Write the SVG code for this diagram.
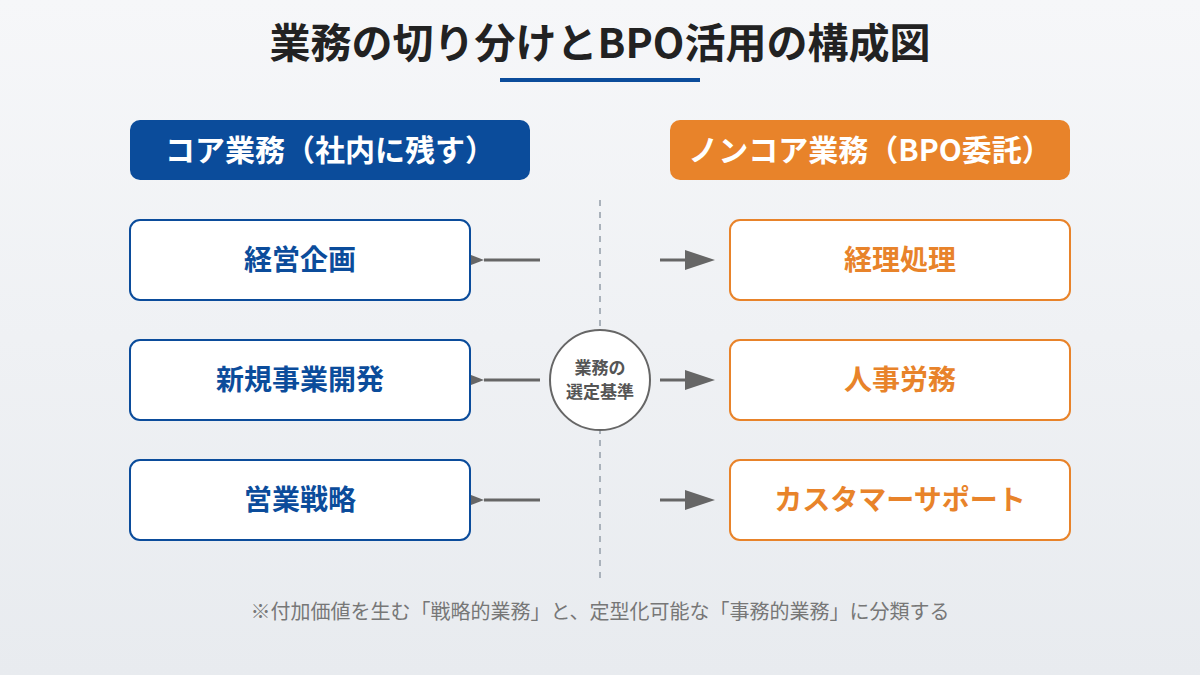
<svg xmlns="http://www.w3.org/2000/svg" width="1200" height="675" viewBox="0 0 1200 675">
<defs>
<linearGradient id="bg" x1="0" y1="0" x2="0" y2="1">
<stop offset="0" stop-color="#f6f7f9"/>
<stop offset="1" stop-color="#e8ebef"/>
</linearGradient>
<style>
text{font-family:"Noto Sans CJK JP","Noto Sans",sans-serif;text-anchor:middle;dominant-baseline:central}
.title{font-size:41px;font-weight:700;fill:#222}
.hdr{font-size:30px;font-weight:700;fill:#fff}
.core rect{fill:#fff;stroke:#0B4C9B;stroke-width:2}
.core text{font-size:28px;font-weight:700;fill:#0B4C9B}
.non rect{fill:#fff;stroke:#E8832A;stroke-width:2}
.non text{font-size:28px;font-weight:700;fill:#E8832A}
.conn line{stroke:#666;stroke-width:3}
.conn polygon{fill:#666}
.note{font-size:20px;fill:#777}
</style>
</defs>
<rect width="1200" height="675" fill="url(#bg)"/>
<text class="title" x="600" y="40">業務の切り分けとBPO活用の構成図</text>
<rect x="500" y="78" width="200" height="4" fill="#0B4C9B"/>
<g id="hdr-core"><rect x="130" y="120" width="400" height="60" rx="10" fill="#0B4C9B"/><text class="hdr" x="330" y="148">コア業務（社内に残す）</text></g>
<g id="hdr-non"><rect x="670" y="120" width="400" height="60" rx="10" fill="#E8832A"/><text class="hdr" x="870" y="148">ノンコア業務（BPO委託）</text></g>
<line x1="600" y1="200" x2="600" y2="580" stroke="#aab2bb" stroke-width="2" stroke-dasharray="6,6"/>
<g class="conn" id="connectors">
<line x1="484" y1="260" x2="540" y2="260"/><polygon points="471,255 484,260 471,265"/>
<line x1="484" y1="380" x2="540" y2="380"/><polygon points="471,375 484,380 471,385"/>
<line x1="484" y1="500" x2="540" y2="500"/><polygon points="471,495 484,500 471,505"/>
<line x1="660" y1="260" x2="690" y2="260"/><polygon points="685,250 715,260 685,270"/>
<line x1="660" y1="380" x2="690" y2="380"/><polygon points="685,370 715,380 685,390"/>
<line x1="660" y1="500" x2="690" y2="500"/><polygon points="685,490 715,500 685,510"/>
</g>
<g class="core" id="n-keiei"><rect x="130" y="220" width="340" height="80" rx="10"/><text x="300" y="258">経営企画</text></g>
<g class="core" id="n-shinki"><rect x="130" y="340" width="340" height="80" rx="10"/><text x="300" y="378">新規事業開発</text></g>
<g class="core" id="n-eigyo"><rect x="130" y="460" width="340" height="80" rx="10"/><text x="300" y="498">営業戦略</text></g>
<g class="non" id="n-keiri"><rect x="730" y="220" width="340" height="80" rx="10"/><text x="900" y="258">経理処理</text></g>
<g class="non" id="n-jinji"><rect x="730" y="340" width="340" height="80" rx="10"/><text x="900" y="378">人事労務</text></g>
<g class="non" id="n-cs"><rect x="730" y="460" width="340" height="80" rx="10"/><text x="900" y="498">カスタマーサポート</text></g>
<g id="n-criteria"><circle cx="600" cy="380" r="50" fill="#fff" stroke="#666" stroke-width="2"/>
<text x="600" y="366" style="font-size:17px;font-weight:700;fill:#555">業務の</text>
<text x="600" y="390" style="font-size:17px;font-weight:700;fill:#555">選定基準</text></g>
<text class="note" x="600" y="610">※付加価値を生む「戦略的業務」と、定型化可能な「事務的業務」に分類する</text>
</svg>
